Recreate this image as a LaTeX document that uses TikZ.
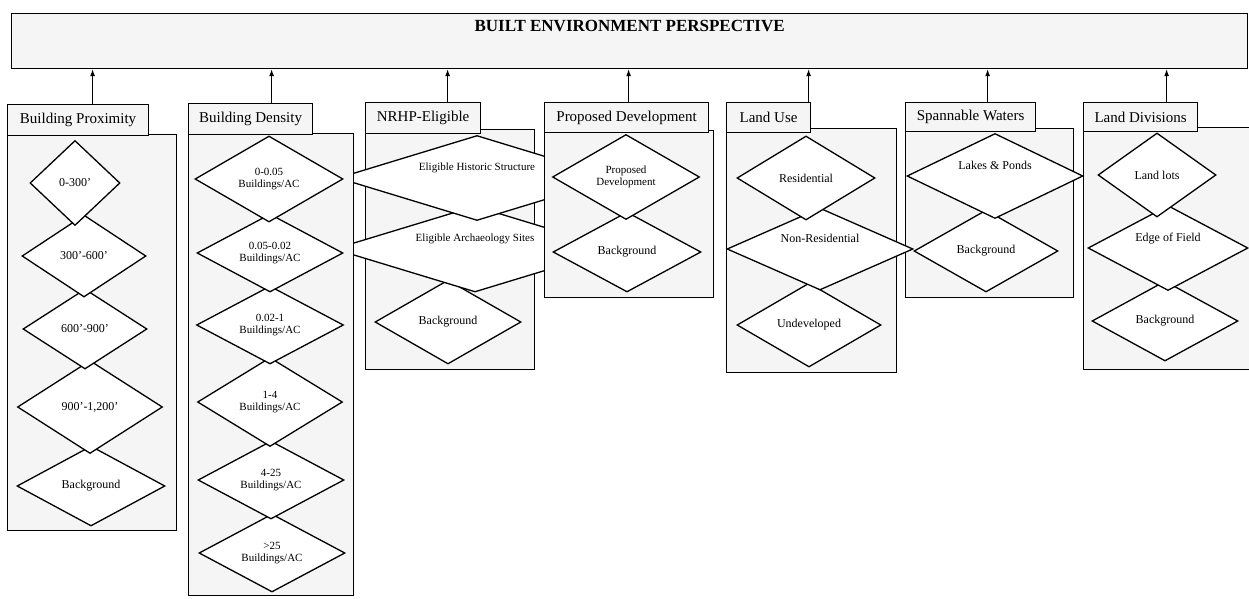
\documentclass[tikz,border=0pt]{standalone}
\usepackage{fontspec}
\setmainfont{Liberation Serif}
\usetikzlibrary{shapes.geometric, arrows.meta, positioning}

\tikzset{
  headline/.style={draw, line width=1.2pt, fill=black!4, anchor=north west, inner sep=0pt},
  tab/.style={draw, line width=1.2pt, fill=black!4, anchor=north west, inner sep=0pt,
    font=\fontsize{15}{15}\selectfont},
  panel/.style={draw, line width=1.2pt, fill=black!4, anchor=north west, inner sep=0pt},
  choice/.style={diamond, aspect=2.5, draw, line width=1.3pt, fill=white, inner sep=0pt,
    align=center, font=\fontsize{12}{13}\selectfont},
  small/.style={font=\fontsize{11}{12.5}\selectfont},
  sz/.style 2 args={minimum width=#1pt, minimum height=#2pt},
  feed/.style={-{Latex[length=7pt,width=5pt]}, line width=1pt}
}
\newcommand{\liftlabel}[1]{\raisebox{22pt}{#1}}

\begin{document}
\begin{tikzpicture}[x=1pt, y=-1pt]
  \useasboundingbox (0,0) rectangle (1249,599);

  % top box
  \node[headline, sz={1236}{55}] (title) at (11,13) {};
  \node[inner sep=0pt, font=\bfseries\fontsize{17}{17}\selectfont, below=7pt of title.north] (titletext)
    {BUILT ENVIRONMENT PERSPECTIVE};

  % NRHP-Eligible (drawn first, its diamonds run under the neighbours)
  \node[panel, sz={169}{240}] (bNR) at (365,129) {};
  \node[tab, sz={115}{31}] (hNR) at (365,102) {NRHP-Eligible};
  \node[choice, sz={146}{84}] (n3) at (448,322) {Background};
  \node[choice, small, sz={282}{86}] (n2) at (475,249) {\liftlabel{Eligible Archaeology Sites}};
  \node[choice, small, sz={278}{85}] (n1) at (477,178) {\liftlabel{Eligible Historic Structure}};

  % Building Proximity
  \node[panel, sz={169}{396}] (bBP) at (7,134) {};
  \node[tab, sz={141}{31}] (hBP) at (7,104) {Building Proximity};
  \node[choice, sz={148}{80}] (p5) at (91,486) {Background};
  \node[choice, sz={145}{93}] (p4) at (90,407) {900'-1,200'};
  \node[choice, sz={124}{80}] (p3) at (85,329) {600'-900'};
  \node[choice, sz={124}{82}] (p2) at (84,256) {300'-600'};
  \node[choice, sz={90}{85}] (p1) at (75,183) {0-300'};

  % Building Density
  \node[panel, sz={165}{462}] (bBD) at (188,133) {};
  \node[tab, sz={124}{31}] (hBD) at (188,103) {Building Density};
  \node[choice, small, sz={146}{78}] (d6) at (272,553) {>25\\Buildings/AC};
  \node[choice, small, sz={146}{78}] (d5) at (271,480) {4-25\\Buildings/AC};
  \node[choice, small, sz={145}{89}] (d4) at (270,402) {1-4\\Buildings/AC};
  \node[choice, small, sz={147}{78}] (d3) at (270,325) {0.02-1\\Buildings/AC};
  \node[choice, small, sz={146}{78}] (d2) at (270,253) {0.05-0.02\\Buildings/AC};
  \node[choice, small, sz={148}{86}] (d1) at (269,179) {0-0.05\\Buildings/AC};

  % Proposed Development
  \node[panel, sz={169}{167}] (bPD) at (544,130) {};
  \node[tab, sz={164}{30}] (hPD) at (544,102) {Proposed Development};
  \node[choice, sz={148}{80}] (q2) at (627,252) {Background};
  \node[choice, small, sz={147}{85}] (q1) at (626,177) {Proposed\\Development};

  % Spannable Waters
  \node[panel, sz={168}{169}] (bSW) at (905,128) {};
  \node[tab, sz={130}{29}] (hSW) at (905,102) {Spannable Waters};
  \node[choice, sz={144}{82}] (s2) at (986,251) {Background};
  \node[choice, sz={176}{85}] (s1) at (995,176) {\liftlabel{Lakes \& Ponds}};

  % Land Use
  \node[panel, sz={170}{244}] (bLU) at (726,128) {};
  \node[tab, sz={84}{30}] (hLU) at (726,102) {Land Use};
  \node[choice, sz={144}{84}] (u3) at (809,325) {Undeveloped};
  \node[choice, sz={186}{82}] (u2) at (820,249) {\liftlabel{Non-Residential}};
  \node[choice, sz={138}{84}] (u1) at (806,178) {Residential};

  % Land Divisions
  \node[panel, sz={172}{242}] (bLD) at (1083,127) {};
  \node[tab, sz={114}{29}] (hLD) at (1083,102) {Land Divisions};
  \node[choice, sz={146}{80}] (l3) at (1165,321) {Background};
  \node[choice, sz={160}{85}] (l2) at (1168,248) {\liftlabel{Edge of Field}};
  \node[choice, sz={118}{84}] (l1) at (1157,175) {Land lots};

  % arrows up to the top box
  \foreach \h/\dx in {hBP/14.5, hBD/21, hNR/24.5, hPD/2, hLU/40, hSW/17, hLD/26} {
    \coordinate (\h-up) at ([xshift=\dx pt]\h.north);
    \draw[feed] (\h-up) -- (\h-up |- title.south);
  }
\end{tikzpicture}
\end{document}
